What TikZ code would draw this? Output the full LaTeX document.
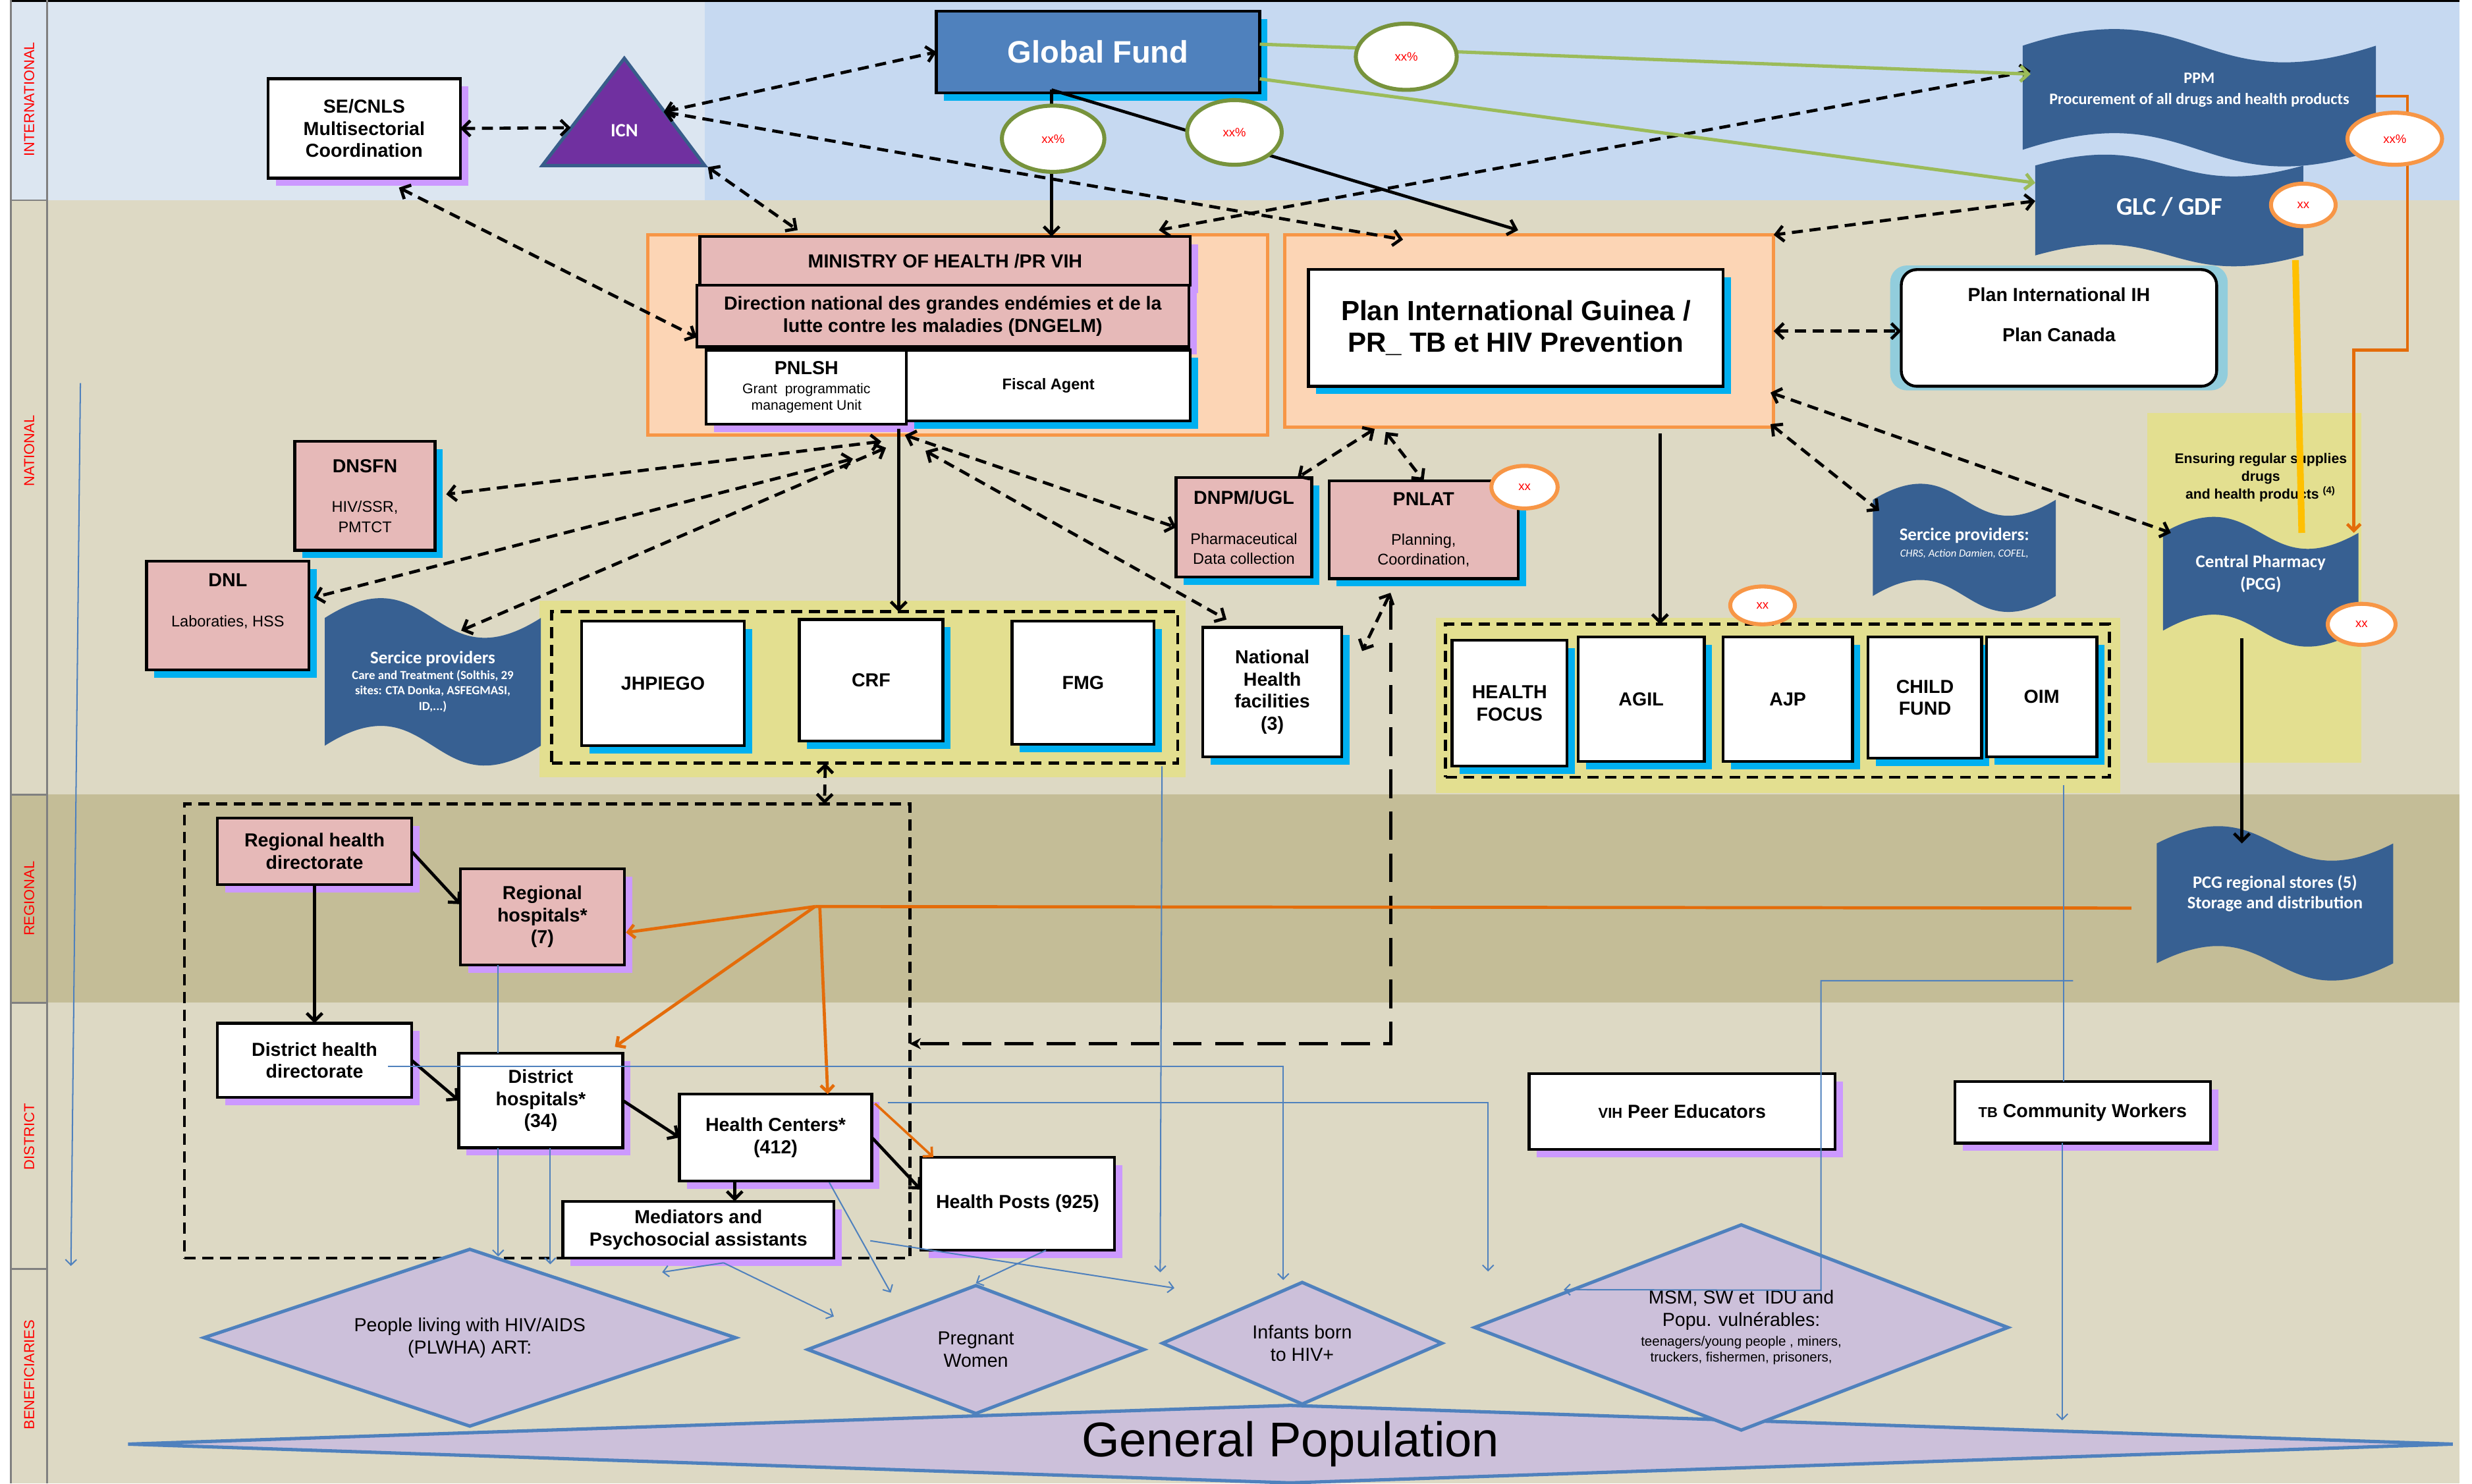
\documentclass[tikz,border=0pt]{standalone}
\usepackage{fontspec}
\setmainfont{Liberation Sans}
\newfontfamily\flagfont{Carlito}
\usetikzlibrary{arrows.meta, calc, shapes.geometric, shadows}

\definecolor{intlight}{HTML}{DCE6F1}
\definecolor{intdark}{HTML}{C6D9F1}
\definecolor{natband}{HTML}{DDD9C4}
\definecolor{regband}{HTML}{C4BD97}
\definecolor{areayellow}{HTML}{E3DF90}
\definecolor{framefill}{HTML}{FCD5B5}
\definecolor{frameorange}{HTML}{F79646}
\definecolor{boxpink}{HTML}{E6B9B8}
\definecolor{shadowpurple}{HTML}{CC99FF}
\definecolor{shadowcyan}{HTML}{00B0F0}
\definecolor{glowcyan}{HTML}{92CDDC}
\definecolor{gfblue}{HTML}{4F81BD}
\definecolor{flagblue}{HTML}{376092}
\definecolor{icnpurple}{HTML}{7030A0}
\definecolor{icnedge}{HTML}{385D8A}
\definecolor{lineblue}{HTML}{4F81BD}
\definecolor{lineorange}{HTML}{E46C0A}
\definecolor{fundgreen}{HTML}{9BBB59}
\definecolor{ringgreen}{HTML}{77933C}
\definecolor{supplygold}{HTML}{FFC000}
\definecolor{targetfill}{HTML}{CCC0DA}
\definecolor{labelgray}{HTML}{808080}

\newcommand{\setfs}[2]{\fontsize{#1}{#2}\selectfont}
\newcommand{\subline}[1]{{\mdseries\setfs{7}{9}#1}}
% wavy banner drawn on the rectangle of a flag node
\newcommand{\flagfill}[2]{%
  \fill[flagblue] (#1.north west) .. controls ([yshift=#2]#1.north) and ([yshift=-#2]#1.north) .. (#1.north east)
    -- (#1.south east) .. controls ([yshift=-#2]#1.south) and ([yshift=#2]#1.south) .. (#1.south west) -- cycle;}

\tikzset{
  box/.style={draw, line width=1.3pt, fill=white, align=center, inner sep=1pt, outer sep=0pt, font=\bfseries\setfs{8.5}{10}},
  pinkbox/.style={box, fill=boxpink},
  purpleshadow/.style={drop shadow={shadow xshift=3.5pt, shadow yshift=-3.5pt, fill=shadowpurple, opacity=1}},
  cyanshadow/.style={drop shadow={shadow xshift=3.5pt, shadow yshift=-3.5pt, fill=shadowcyan, opacity=1}},
  orgframe/.style={draw=frameorange, fill=framefill, line width=1.5pt, inner sep=0pt, outer sep=0pt},
  groupbox/.style={draw, line width=1.4pt, dash pattern=on 5pt off 3pt, inner sep=0pt, outer sep=0pt},
  flagarea/.style={inner sep=0pt, outer sep=0pt},
  flagtext/.style={text=white, align=center, inner sep=0pt, font=\flagfont\bfseries\setfs{8}{10}},
  costgreen/.style={ellipse, draw=ringgreen, fill=white, line width=1.8pt, inner sep=0pt, text=red, font=\setfs{5.5}{6}},
  costorange/.style={costgreen, draw=frameorange},
  target/.style={diamond, draw=lineblue, fill=targetfill, line width=1.5pt, inner sep=0pt, align=center, font=\setfs{8.5}{10}},
  levellabel/.style={rotate=90, text=red, inner sep=0pt, font=\setfs{6.5}{7}},
  link/.style={<->, line width=1.4pt, dash pattern=on 5pt off 3pt},
  longlink/.style={-{Stealth[length=5pt,width=5pt]}, line width=1.5pt, dash pattern=on 13pt off 6pt},
  flow/.style={->, line width=1.4pt},
  reach/.style={->, >={Straight Barb[length=2.5pt,width=5pt]}, draw=lineblue, line width=0.6pt},
  supply/.style={->, >={Straight Barb[length=3pt,width=6pt]}, draw=lineorange, line width=1.4pt},
  fund/.style={->, draw=fundgreen, line width=1.5pt}
}

\begin{document}
\begin{tikzpicture}[x=0.025cm, y=-0.025cm, >={Straight Barb[length=3.5pt,width=7pt]}]
\useasboundingbox (0,0) rectangle (1568,941);

% levels
\fill[intlight] (7,0) rectangle (447,127);
\fill[intdark] (447,0) rectangle (1560,127);
\fill[natband] (7,127) rectangle (1560,504);
\fill[regband] (7,504) rectangle (1560,636);
\fill[natband] (7,636) rectangle (1560,941);
\draw[line width=1pt] (7,0.5) -- (1560,0.5);
\draw[labelgray, line width=0.8pt] (7,0) -- (7,941) (30,0) -- (30,941);
\foreach \y in {127, 504, 636, 805}
	\draw[labelgray, line width=0.8pt] (7,\y) -- (30,\y);
\node[levellabel] (lvint) at (18.5,63) {INTERNATIONAL};
\node[levellabel] (lvnat) at (18.5,286) {NATIONAL};
\node[levellabel] (lvreg) at (18.5,570) {REGIONAL};
\node[levellabel] (lvdis) at (18.5,721) {DISTRICT};
\node[levellabel] (lvben) at (18.5,872) {BENEFICIARIES};

% yellow areas and frames
\fill[areayellow] (342,381) rectangle (752,493);
\fill[areayellow] (911,392) rectangle (1345,503);
\fill[areayellow] (1362,262) rectangle (1498,484);
\node[orgframe, minimum width=9.825cm, minimum height=3.175cm] (mohframe) at (607.5,212.5) {};
\node[orgframe, minimum width=7.75cm, minimum height=3.05cm] (planframe) at (970,210) {};
\node[groupbox, minimum width=9.925cm, minimum height=2.4cm] (ngobox) at (548.5,436) {};
\node[groupbox, minimum width=10.525cm, minimum height=2.425cm] (ingobox) at (1127.5,444.5) {};
\node[groupbox, minimum width=11.5cm, minimum height=7.2cm] (districtbox) at (347,654) {};

% beneficiaries
\node[target, aspect=29.5, minimum width=36.875cm, minimum height=1.25cm, font=\setfs{22}{25}] (genpop) at (818.5,916) {General Population};
\node[target, aspect=3, minimum width=8.45cm, minimum height=2.825cm] (plwha) at (298,848.5) {People living with HIV/AIDS\\(PLWHA) ART:};
\node[target, aspect=2.6, minimum width=5.35cm, minimum height=2.05cm] (preg) at (619,856) {Pregnant\\Women};
\node[target, aspect=2.3, minimum width=4.45cm, minimum height=1.95cm] (inf) at (826,852) {Infants born\\to HIV+};
\node[target, aspect=2.6, minimum width=8.475cm, minimum height=3.275cm] (msm) at (1104.5,842) {MSM, SW et\ \ IDU and\\Popu. vulnérables:\\[-1pt]{\setfs{6.1}{7}teenagers/young people , miners,}\\[-3pt]{\setfs{6.1}{7}truckers, fishermen, prisoners,}};

% international and national boxes
\node[box, purpleshadow, minimum width=3.05cm, minimum height=1.575cm] (secnls) at (231,81.5) {SE/CNLS\\Multisectorial\\Coordination};
\node[box, cyanshadow, fill=gfblue, text=white, font=\bfseries\setfs{14}{16}, minimum width=5.125cm, minimum height=1.3cm] (gf) at (696.5,33) {Global Fund};
\node[pinkbox, purpleshadow, minimum width=7.775cm, minimum height=0.775cm] (moh) at (599.5,165.5) {MINISTRY OF HEALTH /PR VIH};
\node[pinkbox, purpleshadow, minimum width=7.8cm, minimum height=0.975cm] (dngelm) at (598,200.5) {Direction national des grandes endémies et de la\\lutte contre les maladies (DNGELM)};
\node[box, purpleshadow, minimum width=3.175cm, minimum height=1.175cm] (pnlsh) at (511.5,245.5) {PNLSH\\[-1.5pt]{\mdseries\setfs{6.3}{7}Grant\ \ programmatic}\\[-2.5pt]{\mdseries\setfs{6.3}{7}management Unit}};
\node[box, cyanshadow, font=\bfseries\setfs{7}{8}, minimum width=4.5cm, minimum height=1.125cm] (fiscal) at (665,244.5) {Fiscal Agent};
\node[box, cyanshadow, font=\bfseries\setfs{12.5}{14.5}, minimum width=6.575cm, minimum height=1.85cm] (plan) at (961.5,208) {Plan International Guinea /\\PR\_ TB et HIV Prevention};
\node[box, rounded corners=7pt, drop shadow={shadow xshift=0pt, shadow yshift=0pt, shadow scale=1.07, fill=glowcyan, opacity=1}, minimum width=5cm, minimum height=1.85cm] (planih) at (1306,208) {Plan International IH\\[8pt]Plan Canada\\[2pt]\mbox{}};
\node[pinkbox, cyanshadow, minimum width=2.225cm, minimum height=1.725cm] (dnsfn) at (231.5,314.5) {DNSFN\\[8pt]\subline{HIV/SSR,}\\[-1pt]\subline{PMTCT}};
\node[pinkbox, cyanshadow, minimum width=2.575cm, minimum height=1.725cm] (dnl) at (144.5,390.5) {DNL\\[8pt]\subline{Laboraties, HSS}\\[4pt]\mbox{}};
\node[box, cyanshadow, minimum width=2.575cm, minimum height=1.975cm] (jhpiego) at (420.5,433.5) {JHPIEGO};
\node[box, cyanshadow, minimum width=2.275cm, minimum height=1.925cm] (crf) at (552.5,431.5) {CRF};
\node[box, cyanshadow, minimum width=2.25cm, minimum height=1.95cm] (fmg) at (687,433) {FMG};
\node[box, cyanshadow, minimum width=2.2cm, minimum height=2.05cm] (nhf) at (807,439) {National\\Health\\facilities\\(3)};
\node[pinkbox, cyanshadow, minimum width=2.15cm, minimum height=1.575cm] (dnpm) at (789,334.5) {DNPM/UGL\\[8pt]\subline{Pharmaceutical}\\[-1pt]\subline{Data collection}};
\node[pinkbox, cyanshadow, minimum width=3cm, minimum height=1.55cm] (pnlat) at (903,336) {PNLAT\\[8pt]\subline{Planning,}\\[-1pt]\subline{Coordination,}};
\node[box, cyanshadow, minimum width=1.825cm, minimum height=2cm] (hfocus) at (957.5,446) {HEALTH\\FOCUS};
\node[box, cyanshadow, minimum width=2cm, minimum height=1.975cm] (agil) at (1041,443.5) {AGIL};
\node[box, cyanshadow, minimum width=2.05cm, minimum height=1.975cm] (ajp) at (1134,443.5) {AJP};
\node[box, cyanshadow, minimum width=1.8cm, minimum height=1.925cm] (childfund) at (1221,442.5) {CHILD\\FUND};
\node[box, cyanshadow, minimum width=1.75cm, minimum height=1.9cm] (oim) at (1295,442) {OIM};

% regional and district boxes
\node[pinkbox, purpleshadow, minimum width=3.075cm, minimum height=1.05cm] (rhd) at (199.5,540) {Regional health\\directorate};
\node[pinkbox, purpleshadow, minimum width=2.6cm, minimum height=1.525cm] (rh) at (344,581.5) {Regional\\hospitals*\\(7)};
\node[box, purpleshadow, minimum width=3.075cm, minimum height=1.175cm] (dhd) at (199.5,672.5) {District health\\directorate};
\node[box, purpleshadow, minimum width=2.6cm, minimum height=1.5cm] (dh) at (343,698) {District\\hospitals*\\(34)};
\node[box, purpleshadow, minimum width=3.05cm, minimum height=1.375cm] (hc) at (492,721.5) {Health Centers*\\(412)};
\node[box, purpleshadow, minimum width=4.3cm, minimum height=0.9cm] (med) at (443,780) {Mediators and\\Psychosocial assistants};
\node[box, purpleshadow, minimum width=3.075cm, minimum height=1.475cm] (hp) at (645.5,763.5) {Health Posts (925)};
\node[box, purpleshadow, minimum width=4.85cm, minimum height=1.2cm] (peer) at (1067,705) {{\setfs{6.5}{7}VIH} Peer Educators};
\node[box, purpleshadow, minimum width=4.05cm, minimum height=0.975cm] (tbcw) at (1321,705.5) {{\setfs{6.5}{7}TB} Community Workers};

% ICN
\filldraw[fill=icnpurple, draw=icnedge, line width=1.5pt] (396,37) -- (447,105) -- (344,105) -- cycle;
\node[text=white, font=\flagfont\bfseries\setfs{8.5}{9}] (icn) at (396,83) {ICN};
\coordinate (icnL) at (362,81);
\coordinate (icnR) at (421,71);
\coordinate (icnB) at (449,106);

% flags
\node[flagarea, minimum width=5.6cm, minimum height=1.65cm] (ppm) at (1395,62) {};
\flagfill{ppm}{26pt}
\node[flagtext, font=\flagfont\bfseries\setfs{7.2}{9.5}] (ppmtext) at ($(ppm.center)+(0,-5)$) {PPM\\Procurement of all drugs and health products};
\node[flagarea, minimum width=4.25cm, minimum height=1.425cm] (glc) at (1376,133.5) {};
\flagfill{glc}{17pt}
\node[flagtext, font=\flagfont\bfseries\setfs{11.4}{13}] (glctext) at ($(glc.center)+(0,-2.5)$) {GLC / GDF};
\node[flagarea, minimum width=3.425cm, minimum height=2.025cm] (spleft) at (274.5,432.5) {};
\flagfill{spleft}{31pt}
\node[flagtext, font=\flagfont\bfseries\setfs{5.6}{7}] (splefttext) at (spleft.center) {{\setfs{8}{9}Sercice providers}\\Care and Treatment (Solthis, 29\\sites: CTA Donka, ASFEGMASI,\\ID,...)};
\node[flagarea, minimum width=2.9cm, minimum height=1.525cm] (spright) at (1246,347.5) {};
\flagfill{spright}{25pt}
\node[flagtext, font=\flagfont\bfseries\setfs{4.9}{7.5}] (sprighttext) at ($(spright.center)+(0,-3)$) {{\setfs{8}{9}Sercice providers:}\\{\mdseries\itshape CHRS, Action Damien, COFEL,}};
\node[flagarea, minimum width=3.1cm, minimum height=1.55cm] (cp) at (1434,369) {};
\flagfill{cp}{25pt}
\node[flagtext, font=\flagfont\bfseries\setfs{8}{10}] (cptext) at ($(cp.center)+(0,-5)$) {Central Pharmacy\\(PCG)};
\node[flagarea, minimum width=3.75cm, minimum height=1.9cm] (pcg) at (1443,573) {};
\flagfill{pcg}{27pt}
\node[flagtext, font=\flagfont\bfseries\setfs{7.9}{9.2}] (pcgtext) at ($(pcg.center)+(0,-6.5)$) {PCG regional stores (5)\\Storage and distribution};
\node[align=center, font=\bfseries\setfs{6.3}{8}] (supplynote) at (1434,303) {Ensuring regular supplies\\drugs\\and health products \textsuperscript{(4)}};

% dashed links
\draw[link] (secnls.east) -- (icnL);
\draw[link] ($(secnls.south)+(22,6)$) -- ($(dngelm.south west)+(0,-6)$);
\draw[link] (icnR) -- (gf.west);
\draw[link] (icnR) -- ($(planframe.north west)+(75,3)$);
\draw[link] (icnB) -- ($(mohframe.north west)+(95,-3)$);
\draw[link] ($(ppm.west)+(5,-17)$) -- ($(mohframe.north east)+(-69,-3)$);
\draw[link] ($(glc.west)+(0,-6)$) -- (planframe.north east);
\draw[link] (planframe.east) -- (planih.west |- planframe.east);
\draw[link] ($(planframe.south east)+(-2,-2)$) -- ($(spright.north west)+(4,7)$);
\draw[link] ($(planframe.east)+(-2,39)$) -- ($(cp.north west)+(5,0)$);
\draw[link] ($(planframe.south west)+(57,1)$) -- ($(dnpm.north east)+(-9,0)$);
\draw[link] ($(planframe.south west)+(64,3)$) -- (pnlat.north);
\draw[link] ($(pnlsh.south east)+(-16,11)$) -- ($(dnsfn.east)+(7,-1)$);
\draw[link] ($(pnlsh.south east)+(-34,22)$) -- ($(dnl.north east)+(3,23)$);
\draw[link] ($(pnlsh.south east)+(-13,15)$) -- ($(spleft.north)+(18,8)$);
\draw[link] ($(pnlsh.south east)+(-1,7)$) -- (dnpm.west);
\draw[link] ($(pnlsh.south east)+(12,17)$) -- ($(nhf.north west)+(15,-5)$);
\draw[link] ($(pnlat.south west)+(39,9)$) -- ($(nhf.north east)+(13,15)$);
\draw[link] ($(ngobox.south)+(-25,0)$) -- ($(districtbox.north)+(176,0)$);
\draw[longlink] ($(pnlat.south west)+(39,14)$) |- ($(districtbox.east)+(0,8)$);

% solid flows
\coordinate (gfout) at (667,57);
\draw[flow] (gfout) -- (gfout |- moh.north);
\draw[flow] (gfout) -- ($(planframe.north west)+(148,-3)$);
\coordinate (pnlshout) at ($(pnlsh.south east)+(-5,3)$);
\draw[flow] (pnlshout) -- (pnlshout |- ngobox.north);
\coordinate (planout) at ($(planframe.south west)+(238,4)$);
\draw[flow] (planout) -- (planout |- ingobox.north);
\coordinate (cpout) at ($(cp.south)+(-12,5)$);
\draw[flow] (cpout) -- (cpout |- pcg.north);
\draw[flow] (rhd.south) -- (dhd.north);
\draw[flow] (rhd.east) -- ($(rh.west)+(0,-8)$);
\draw[flow] (dhd.east) -- (dh.west);
\draw[flow] (dh.east) -- (hc.west);
\coordinate (hcout) at ($(hc.south)+(-26,0)$);
\draw[flow] (hcout) -- (hcout |- med.north);
\draw[flow] (hc.east) -- ($(hp.west)+(0,-9)$);

% supplies and funds
\coordinate (orhub) at (517,575);
\draw[supply, -] (orhub) -- ($(pcg.west)+(-16,3)$);
\draw[supply] (orhub) -- ($(rh.east)+(1,10)$);
\draw[supply] (orhub) -- ($(dh.north east)+(-5,-4)$);
\draw[supply] ($(orhub)+(3,0)$) -- ($(hc.north)+(33,0)$);
\draw[supply, line width=1.1pt] ($(hc.north east)+(2,6)$) -- ($(hp.north west)+(8,0)$);
\draw[supply] ($(ppm.east)+(0,-1)$) -| ($(cp.north east)+(31,-116)$) -| ($(cp.north east)+(-3,0)$);
\draw[supplygold, line width=3pt] ($(glc.south)+(80,3)$) -- ($(cp.north)+(26,0)$);
\draw[fund] ($(gf.east)+(0,-5)$) -- ($(ppm.west)+(5,-15)$);
\draw[fund] ($(gf.east)+(0,17)$) -- ($(glc.west)+(0,-17.5)$);

% reach of the beneficiaries
\coordinate (levtop) at (51,243);
\coordinate (levbot) at (45,803);
\draw[reach] (levtop) -- (levbot);
\coordinate (rhdown) at ($(rh.south)+(-28,0)$);
\draw[reach, -] (rhdown) -- (rhdown |- dh.north);
\draw[reach] (rhdown |- dh.south) -- ($(rhdown |- plwha.north)+(0,6)$);
\coordinate (dhdown) at ($(dh.south)+(6,0)$);
\draw[reach] (dhdown) -- ($(plwha.north)+(51,11)$);
\coordinate (medout) at ($(med.south)+(16,3)$);
\draw[reach] (medout) -- ($(plwha.north)+(122,16)$);
\draw[reach] (medout) -- ($(preg.west)+(18,-21)$);
\draw[reach] ($(hc.south)+(34,1)$) -- ($(preg.north)+(-54,6)$);
\draw[reach] ($(hc.south east)+(-1,38)$) -- ($(inf.west)+(9,-35)$);
\draw[reach] ($(hp.south)+(18,0)$) -- (preg.north);
\coordinate (fmgdown) at ($(ngobox.south east)+(-10,2)$);
\draw[reach] (fmgdown) -- ($(inf.west)+(0,-45)$);
\draw[reach] ($(dhd.east)+(-15,4)$) -| ($(inf.north)+(-12,0)$);
\draw[reach] ($(hc.east)+(10,-22)$) -| ($(msm.west)+(10,-35.5)$);
\coordinate (oimdown) at ($(oim.south)+(14,18)$);
\draw[reach, -] (oimdown) -- (oimdown |- tbcw.north);
\coordinate (oimbranch) at ($(oim.south)+(20,142)$);
\draw[reach] (oimbranch) -| ($(msm.north)+(50.5,43)$) -- ($(msm.west)+(58,-24)$);
\coordinate (tbdown) at ($(tbcw.south)+(-13,0)$);
\draw[reach] (tbdown) -- ($(tbdown |- genpop.north)+(0,11)$);

% shares
\node[costgreen, minimum width=1.6cm, minimum height=1.05cm] (gfppm) at (892,36) {xx\%};
\node[costgreen, minimum width=1.625cm, minimum height=1.05cm] (gfmoh) at (668,88) {xx\%};
\node[costgreen, minimum width=1.5cm, minimum height=1.025cm] (gfplan) at (783,84) {xx\%};
\node[costorange, minimum width=1.5cm, minimum height=0.825cm] (ppmcost) at (1519,88) {xx\%};
\node[costorange, minimum width=1.025cm, minimum height=0.675cm] (glccost) at (1461,130) {xx};
\node[costorange, minimum width=1.05cm, minimum height=0.675cm] (pnlatcost) at (967,309) {xx};
\node[costorange, minimum width=1.025cm, minimum height=0.6cm] (ajpcost) at (1118,384) {xx};
\node[costorange, minimum width=1.075cm, minimum height=0.65cm] (cpcost) at (1498,396) {xx};
\end{tikzpicture}
\end{document}
